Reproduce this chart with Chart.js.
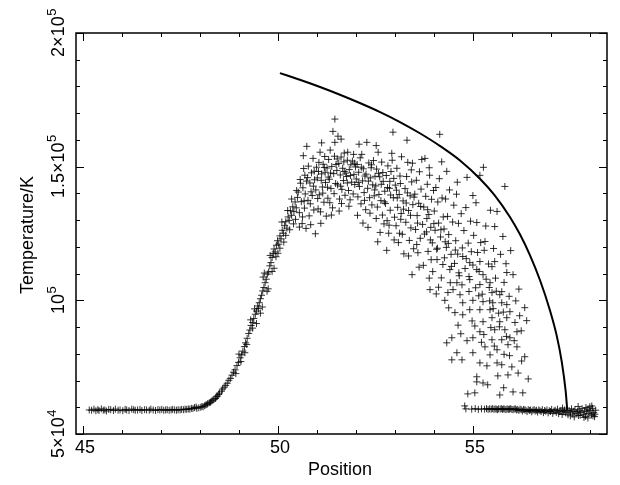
<!DOCTYPE html>
<html>
<head>
<meta charset="utf-8">
<script src="https://cdn.jsdelivr.net/npm/chart.js@4.4.0/dist/chart.umd.min.js"></script>
<style>
html,body{margin:0;padding:0;background:#fff;}
#wrap{width:620px;height:485px;}
</style>
</head>
<body>
<div id="wrap"><canvas id="c" width="620" height="485"></canvas></div>
<script>
// ---- axis ticks / labels ----
const xTickValues = [45,46,47,48,49,50,51,52,53,54,55,56,57,58];
const xMajorValues = [45,50,55];
const xTickLabels = ['45','50','55'];
const yTickValues = [50000,60000,70000,80000,90000,100000,110000,120000,130000,140000,150000,160000,170000,180000,190000,200000];
const yMajorValues = [50000,100000,150000,200000];
const yLabelBase = ['5×10','10','1.5×10','2×10'];
const yLabelExp = ['4','5','5','5'];
const xTitle = 'Position';
const yTitle = 'Temperature/K';

// ---- model curve (solid line) ----
const modelX = [50.05,50.56,51.08,51.59,52.10,52.62,53.13,53.64,54.15,54.67,55.18,55.56,55.95,56.21,56.46,56.72,56.97,57.15,57.28,57.38,57.42];
const modelT = [185000,182500,179800,176900,173800,170400,166700,162500,157800,152300,145500,139300,131200,124600,117000,107600,96600,86800,77000,66000,59000];

// ---- simulation points (+) : [position, temperature] ----
const preShockPts = [[45.16,59000],[45.22,58900],[45.28,59300],[45.33,58700],[45.38,59100],[45.41,58800],[45.47,59400],[45.52,58900],[45.56,59000],[45.6,58600],[45.66,59200],[45.71,59100],[45.78,58800],[45.83,59300],[45.9,58900],[45.95,59000],[46.02,58700],[46.08,59200],[46.12,59000],[46.18,58800],[46.25,59300],[46.3,59100],[46.34,58900],[46.4,59000],[46.46,59200],[46.51,58800],[46.58,59100],[46.63,59000],[46.7,58900],[46.74,59300],[46.8,59000],[46.86,58800],[46.92,59100],[46.97,59000],[47.02,59200],[47.07,58900],[47.12,59000],[47.16,59100],[47.21,58900],[47.26,59000],[47.3,59200],[47.35,59000],[47.4,58900],[47.44,59100],[47.49,59000],[47.53,59200],[47.58,59100],[47.62,59300],[47.66,59200],[47.7,59400],[47.74,59300],[47.78,59600],[47.82,59500],[47.86,59900],[47.9,60100]];

const risePts = [[47.92,59600],[47.97,59800],[48.02,60000],[48.05,60300],[48.08,60200],[48.12,60600],[48.15,60900],[48.18,61000],[48.2,61400],[48.24,61700],[48.27,61900],[48.3,62300],[48.33,62600],[48.36,63000],[48.4,63300],[48.42,63900],[48.45,64200],[48.48,64800],[48.5,65300],[48.55,66000],[48.58,66800],[48.62,67500],[48.66,68200],[48.7,69000],[48.74,70100],[48.78,70800],[48.82,72000],[48.86,73100],[48.9,74000],[48.95,75600],[48.99,76800],[49.03,78500],[49.07,79600],[49.1,81000],[49.14,82700],[49.17,84100],[49.21,85800],[49.25,87600],[49.28,88900],[49.31,90600],[49.35,91700],[49.38,93200],[49.42,94800],[49.45,96000],[49.48,97900],[49.52,99100],[49.55,100600],[49.58,101900],[49.61,103500],[49.64,104800],[49.67,106600],[49.7,107900],[49.73,109800],[49.76,110600],[49.79,112900],[49.82,114100],[49.85,116000],[49.88,117500],[49.9,119200],[49.93,118100],[49.96,120600],[49.99,122300],[50.02,121000],[50.05,124100],[50.08,123000],[50.11,126200],[50.14,125100],[50.17,127900],[50.2,129400],[50.23,127000],[50.26,131200],[50.29,129900],[50.32,133500],[50.35,131800],[50.38,135000],[50.41,133200],[50.44,136800],[50.47,134600],[50.5,138500],[49.6,97500],[49.75,104300],[49.9,112000],[50.0,117600],[50.15,121800],[50.3,126400],[50.45,130300],[49.5,96900],[49.35,89600],[49.2,83500],[49.05,77100],[48.92,72600],[49.62,108700],[49.8,116800],
[49.4,96800],[49.55,95200],[49.65,110200],[49.72,103400],[49.85,110800],[49.95,116300],[50.05,119500],[50.1,129300],[50.2,124300],[50.25,133600],[50.35,137900],[50.4,128600],[50.48,141100],[49.45,91300],[49.3,92700],[49.15,80400],[49.0,79900]];

const peakPts = [[50.52,140500],[50.55,132800],[50.57,145200],[50.6,136900],[50.62,128700],[50.64,142100],[50.66,149300],[50.68,134500],[50.7,139800],[50.72,126900],[50.73,144600],[50.74,157600],[50.55,127400],[50.63,131200],[50.69,146800],
[50.77,137400],[50.78,150200],[50.8,131600],[50.82,143900],[50.84,128300],[50.86,147700],[50.88,139200],[50.9,153100],[50.92,133800],[50.94,145100],[50.96,124900],[50.97,141300],[50.99,149800],[50.83,136100],[50.91,142700],
[51.01,145800],[51.03,134200],[51.05,151600],[51.06,139500],[51.08,155400],[51.1,128800],[51.12,147300],[51.14,142400],[51.16,150900],[51.18,136700],[51.2,153800],[51.22,144100],[51.24,131500],[51.04,148200],[51.15,140100],[51.21,147900],
[51.26,149500],[51.28,138200],[51.3,152700],[51.32,145300],[51.34,156200],[51.36,141800],[51.38,150100],[51.4,134600],[51.41,163200],[51.43,147400],[51.45,153900],[51.46,159100],[51.46,167800],[51.48,143700],[51.49,150800],[51.29,146100],[51.37,131900],
[51.51,148600],[51.53,143200],[51.54,161400],[51.56,151200],[51.58,137900],[51.6,146900],[51.62,153600],[51.64,141500],[51.66,149400],[51.68,144800],[51.7,155100],[51.72,139300],[51.74,147600],[51.57,133400],[51.69,151800],
[51.76,146300],[51.78,152400],[51.79,155400],[51.81,141100],[51.83,148900],[51.85,137600],[51.87,150700],[51.89,144200],[51.91,152100],[51.93,139800],[51.95,147100],[51.97,143300],[51.99,149900],[51.82,135200],[51.94,154600],
[52.01,145400],[52.03,150800],[52.05,138700],[52.07,147900],[52.09,142600],[52.11,153300],[52.13,136100],[52.15,154600],[52.17,144700],[52.19,149200],[52.21,140300],[52.23,146500],[52.04,131800],[52.18,128900],
[52.26,147200],[52.28,159100],[52.3,141900],[52.31,127300],[52.33,151400],[52.35,138400],[52.37,145800],[52.39,149600],[52.41,135700],[52.43,143200],[52.45,152300],[52.47,139100],[52.49,146400],[52.36,132600],
[52.51,142800],[52.53,149100],[52.55,134900],[52.57,155400],[52.59,139600],[52.61,146200],[52.62,125400],[52.64,137300],[52.66,151700],[52.68,131900],[52.7,144500],[52.72,128600],[52.74,140800],[52.56,121900],[52.69,147800],
[52.76,136200],[52.78,146700],[52.8,129800],[52.82,150300],[52.84,125100],[52.86,141900],[52.88,133700],[52.9,148200],[52.92,155000],[52.95,162900],[52.96,138400],[52.98,122600],[52.79,118700],[52.87,144500],[52.99,131100]];

const corePts = [[50.58,143800],[50.67,137200],[50.76,145900],[50.85,140600],[50.93,148300],[51.02,138100],[51.11,144900],[51.19,149700],[51.27,142300],[51.35,147600],[51.44,139900],[51.52,152900],[51.61,142700],[51.7,148200],[51.78,143900],[51.86,146700],[51.96,151300],[52.06,144100],[52.14,149800],[52.22,137400],[52.32,144600],[52.4,150700],[52.48,141300],[52.58,147500],[52.65,143400],[52.73,136800],[52.81,142200],[52.89,139400],[52.97,145600],[53.06,138300],[53.14,143700],[53.22,134100],[53.32,140200],[53.4,131800],[53.49,138600],[53.58,128900],[53.66,135100],[53.76,124800],[53.84,133900],[53.91,122600],[54.0,128700],[54.09,119500],[54.18,126400],[54.27,115900],[54.37,121300],[54.45,112700],[54.55,118800],[54.64,110300],[54.72,105800],[54.83,115600],[54.9,108900],[55.0,113200],[55.07,104700],[55.16,110800],[55.24,102300],[55.34,107900],[55.43,99800],[55.52,96900],[55.6,103400],[55.68,90100],[55.78,95600],[55.86,86500],[55.94,79300],[56.06,84900],[56.16,72800],[56.24,88600],[51.09,133100],[51.33,136500],[51.63,136200],[52.25,133900],[52.52,130600],[52.85,128100],[53.12,125100],[53.35,116600],[53.62,112400],[53.88,108300],[54.12,104900],[54.38,97200],[54.62,90700],[54.85,84900],[55.05,90400],[55.28,87200],[55.55,82900],[55.8,79800],[50.65,154100],[51.12,158900],[51.62,160300],[52.08,158400],[52.52,157900],[52.93,152400],[53.45,151300],[53.88,149600],[54.2,151800],[54.6,144200],[55.0,139200],[55.45,133700]];

const declinePts = [[53.01,143100],[53.03,127900],[53.05,149400],[53.07,134800],[53.09,121600],[53.11,139600],[53.13,146500],[53.15,130300],[53.17,153700],[53.19,124700],[53.21,137200],[53.23,117400],[53.04,141200],[53.16,132500],
[53.26,141800],[53.28,129200],[53.3,146300],[53.31,159900],[53.33,151600],[53.35,133600],[53.37,122400],[53.39,139100],[53.41,127100],[53.43,144300],[53.44,109600],[53.46,135800],[53.48,119300],[53.29,136400],[53.42,148800],
[53.51,139700],[53.53,126500],[53.55,144900],[53.57,131700],[53.59,117800],[53.61,136300],[53.63,148100],[53.65,123200],[53.67,141600],[53.69,152700],[53.71,128400],[53.73,113100],[53.74,134900],[53.56,120900],
[53.77,153100],[53.79,138900],[53.81,125600],[53.83,143400],[53.85,118300],[53.87,132100],[53.89,146800],[53.9,104000],[53.92,127300],[53.94,137800],[53.96,121500],[53.97,110750],[53.99,141100],[53.82,130600],[53.93,115200],
[54.01,133400],[54.03,126200],[54.05,142200],[54.07,119100],[54.08,115250],[54.1,136800],[54.12,128900],[54.14,145500],[54.15,162100],[54.17,123700],[54.19,108400],[54.21,138300],[54.23,113400],[54.24,131200],[54.06,102400],
[54.26,126700],[54.28,100000],[54.3,137900],[54.32,119800],[54.33,148250],[54.35,131400],[54.36,102900],[54.38,124600],[54.4,141300],[54.41,111500],[54.42,106600],[54.44,117200],[54.46,86000],[54.46,77750],[54.48,129300],[54.49,104000],[54.33,84100],[54.29,121900],
[54.51,135600],[54.53,113800],[54.54,95400],[54.56,122300],[54.58,139700],[54.59,106600],[54.59,80400],[54.61,117300],[54.63,128800],[54.65,109200],[54.67,102100],[54.69,87500],[54.7,132400],[54.72,77750],[54.73,119600],[54.74,116400],[54.74,99100],[54.74,94600],
[54.77,126100],[54.79,60500],[54.8,111900],[54.82,134700],[54.85,146000],[54.87,65000],[54.88,121400],[54.9,103300],[54.92,107750],[54.92,96500],[54.92,114100],[54.94,129600],[54.96,118200],[54.98,92300],[55.0,100000],[55.0,86000],[55.0,80400],
[55.02,124300],[55.05,65400],[55.08,136500],[55.1,111500],[55.1,69500],[55.1,71400],[55.1,129100],[55.12,117900],[55.15,101700],[55.18,146750],[55.18,114500],[55.18,105900],[55.18,96500],[55.18,88250],[55.18,76600],[55.2,121600],[55.22,84300],
[55.26,109600],[55.26,99500],[55.26,92000],[55.26,69100],[55.27,149750],[55.29,118700],[55.31,82600],[55.31,122000],[55.33,127800],[55.36,75500],[55.38,68400],[55.4,113600],[55.42,104800],[55.44,106600],[55.44,96500],[55.44,79600],[55.46,89800],[55.49,112600],[55.49,102900],[55.49,93500],[55.49,85250],
[55.51,99100],[55.53,119400],[55.56,127600],[55.56,114500],[55.56,89000],[55.58,108300],[55.62,133250],[55.62,81500],[55.62,76600],[55.64,71750],[55.66,95200],[55.69,102100],[55.69,92000],[55.69,64600],[55.71,117200],[55.74,103250],[55.74,99100],[55.74,85250],[55.74,75900],
[55.77,123900],[55.8,106700],[55.82,142600],[55.82,89000],[55.85,113700],[55.87,110400],[55.87,98400],[55.87,93500],[55.9,83400],[55.9,72100],[55.93,101500],[55.95,95750],[55.95,86000],[55.97,118600],[56.0,75100],[55.79,67300],
[56.03,109600],[56.03,65750],[56.08,91700],[56.13,88250],[56.13,82600],[56.18,104200],[56.2,94250],[56.25,77300],[56.28,65400],[56.33,97250],[56.33,78900],[56.38,92400],[56.42,70600],[56.1,99800]];

const postShockPts = [[54.82,59400],[54.97,59300],[55.06,59500],[55.14,59200],[55.22,59400],[55.3,59300],[55.35,59500],[55.39,59200],[55.43,59400],[55.47,59300],[55.5,59500],[55.54,59200],[55.57,59400],[55.6,59300],[55.63,59100],[55.66,59400],[55.7,59300],[55.73,59500],[55.76,59200],[55.79,59400],[55.82,59300],[55.85,59100],[55.88,59400],[55.91,59200],[55.94,59300],[55.97,59500],[56.0,59200],[56.03,59100],[56.06,59300],[56.09,59400],[56.12,59000],[56.15,59200],[56.18,58800],[56.21,59300],[56.24,59100],[56.27,58600],[56.3,59200],[56.33,59000],[56.36,58900],[56.39,58400],[56.42,59100],[56.45,58800],[56.48,59000],[56.51,58300],[56.54,58900],[56.57,59100],[56.6,58600],[56.63,58900],[56.66,58200],[56.69,59000],[56.72,58700],[56.75,58400],[56.78,59100],[56.81,58000],[56.84,58800],[56.87,58500],[56.9,59000],[56.93,57900],[56.96,58700],[56.99,58400],[57.02,59200],[57.05,57700],[57.08,58600],[57.11,58900],[57.14,58100],[57.17,59300],[57.2,57600],[57.23,58500],[57.26,58800],[57.29,57300],[57.32,58300],[57.35,59000],[57.38,57900],[57.41,58600],[57.44,57200],[57.47,58800],[57.5,58200],[57.53,59400],[57.56,57500],[57.59,58500],[57.62,59100],[57.65,57800],[57.68,58400],[57.71,56900],[57.74,58900],[57.77,58100],[57.8,59500],[57.83,57400],[57.86,58600],[57.89,56600],[57.92,58300],[57.95,59300],[57.98,57700],[58.01,58800],[58.04,57200],[58.07,59600],[58.1,58000],[58.13,57400],[58.15,58900],[57.9,59900],[58.0,60200],[57.6,56400],[58.08,56800],[57.3,59700],
[57.7,60300],[57.85,56200],[58.05,60500],[58.12,56500],[57.95,56000],[57.5,56800],[57.75,57000]];

// ---- build datasets ----
const allPts = [].concat(preShockPts, risePts, peakPts, corePts, declinePts, postShockPts).map(p => ({x:p[0], y:p[1]}));
const modelPts = modelX.map((v,i) => ({x:v, y:modelT[i]}));

const FONT = '"Liberation Sans", Arial, Helvetica, sans-serif';

const framePlugin = {
  id: 'frame',
  afterDraw(chart) {
    const ctx = chart.ctx, a = chart.chartArea, xs = chart.scales.x, ys = chart.scales.y;
    ctx.save();
    ctx.strokeStyle = '#000';
    ctx.lineWidth = 1.5;
    ctx.strokeRect(a.left, a.top, a.right - a.left, a.bottom - a.top);
    ctx.lineWidth = 1;
    ctx.beginPath();
    xTickValues.forEach(v => {
      const px = Math.round(xs.getPixelForValue(v)) + 0.5;
      const len = xMajorValues.includes(v) ? 8 : 4;
      ctx.moveTo(px, a.bottom); ctx.lineTo(px, a.bottom - len);
      ctx.moveTo(px, a.top); ctx.lineTo(px, a.top + len);
    });
    yTickValues.forEach(v => {
      const py = Math.round(ys.getPixelForValue(v)) + 0.5;
      const len = yMajorValues.includes(v) ? 8 : 4;
      ctx.moveTo(a.left, py); ctx.lineTo(a.left + len, py);
      ctx.moveTo(a.right, py); ctx.lineTo(a.right - len, py);
    });
    ctx.stroke();

    ctx.fillStyle = '#000';
    // x tick labels
    ctx.font = '18px ' + FONT;
    ctx.textAlign = 'center';
    ctx.textBaseline = 'middle';
    xMajorValues.forEach((v,i) => {
      ctx.fillText(xTickLabels[i], xs.getPixelForValue(v) + 2, a.bottom + 14);
    });
    // x title
    ctx.fillText(xTitle, 340, a.bottom + 36);

    // y tick labels (rotated, with superscript exponents)
    yMajorValues.forEach((v,i) => {
      const py = ys.getPixelForValue(v);
      ctx.save();
      ctx.translate(64, py);
      ctx.rotate(-Math.PI/2);
      ctx.textBaseline = 'alphabetic';
      ctx.textAlign = 'left';
      ctx.font = '18px ' + FONT;
      const wb = ctx.measureText(yLabelBase[i]).width;
      ctx.font = '13px ' + FONT;
      const we = ctx.measureText(yLabelExp[i]).width;
      const start = -(wb + we) / 2;
      ctx.font = '18px ' + FONT;
      ctx.fillText(yLabelBase[i], start, 0);
      ctx.font = '13px ' + FONT;
      ctx.fillText(yLabelExp[i], start + wb + 0.5, -8);
      ctx.restore();
    });
    // y title
    ctx.save();
    ctx.translate(33, 235);
    ctx.rotate(-Math.PI/2);
    ctx.font = '18px ' + FONT;
    ctx.textAlign = 'center';
    ctx.textBaseline = 'alphabetic';
    ctx.fillText(yTitle, 0, 0);
    ctx.restore();
    ctx.restore();
  }
};

new Chart(document.getElementById('c'), {
  type: 'scatter',
  data: {
    datasets: [
      {
        type: 'line',
        data: modelPts,
        borderColor: '#000',
        borderWidth: 2,
        pointRadius: 0,
        fill: false,
        cubicInterpolationMode: 'monotone',
        order: 0
      },
      {
        type: 'scatter',
        data: allPts,
        pointStyle: 'cross',
        pointRadius: 3.5,
        pointBorderWidth: 1,
        borderColor: 'rgba(0,0,0,0.8)',
        backgroundColor: 'rgba(0,0,0,0.8)',
        order: 1
      }
    ]
  },
  options: {
    responsive: false,
    animation: false,
    events: [],
    layout: { padding: { left: 76, top: 33, right: 13, bottom: 51 } },
    plugins: { legend: { display: false }, tooltip: { enabled: false } },
    scales: {
      x: { type: 'linear', min: 44.82, max: 58.44, display: false },
      y: { type: 'linear', min: 50000, max: 200000, display: false }
    }
  },
  plugins: [framePlugin]
});
</script>
</body>
</html>
